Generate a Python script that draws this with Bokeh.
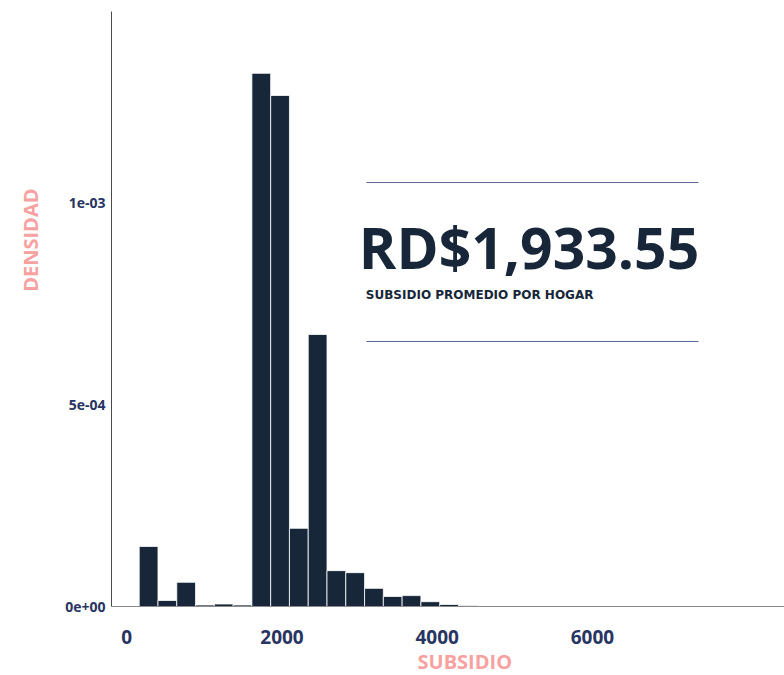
from bokeh.plotting import figure
from bokeh.models import Range1d, FixedTicker, Label, ColumnDataSource, Title
from bokeh.embed import file_html
from bokeh.resources import INLINE

# ---- data ----
bin_left = [160, 402, 644, 886, 1128, 1370, 1612, 1854, 2096, 2338,
            2580, 2822, 3064, 3306, 3548, 3790, 4032, 4274]
bin_right = [402, 644, 886, 1128, 1370, 1612, 1854, 2096, 2338, 2580,
             2822, 3064, 3306, 3548, 3790, 4032, 4274, 4516]
density = [1.49e-4, 1.5e-5, 6.0e-5, 3.7e-6, 6.2e-6, 3.7e-6, 1.323e-3, 1.268e-3,
           1.94e-4, 6.75e-4, 8.9e-5, 8.4e-5, 4.5e-5, 2.5e-5, 2.7e-5, 1.2e-5,
           5e-6, 2.5e-6]
x_ticks = [0, 2000, 4000, 6000]
y_ticks = [0, 0.0005, 0.001]
y_tick_labels = ["0e+00", "5e-04", "1e-03"]
x_title = "SUBSIDIO"
y_title = "DENSIDAD"
mean_text = "RD$1,933.55"
mean_caption = "SUBSIDIO PROMEDIO POR HOGAR"

BAR = "#172739"
TICK = "#283562"
TITLE = "#f7a1a1"
FONT = "Open Sans"

p = figure(width=784, height=675, output_backend="svg", toolbar_location=None,
           x_range=Range1d(-197, 8475), y_range=Range1d(0, 1.4764e-3),
           min_border_left=111, min_border_right=0, min_border_top=11,
           min_border_bottom=69)
p.outline_line_color = None
p.xgrid.grid_line_color = None
p.ygrid.grid_line_color = None
p.background_fill_color = "white"
p.border_fill_color = "white"

src = ColumnDataSource(dict(left=bin_left, right=bin_right, top=density))
p.quad(left="left", right="right", bottom=0, top="top", source=src,
       fill_color=BAR, line_color="white", line_width=0.8)

# axes
p.xaxis.ticker = FixedTicker(ticks=x_ticks)
p.yaxis.ticker = FixedTicker(ticks=y_ticks)
p.yaxis.major_label_overrides = {t: l for t, l in zip(y_ticks, y_tick_labels)}
for ax in (p.xaxis, p.yaxis):
    ax.major_tick_line_color = None
    ax.minor_tick_line_color = None
    ax.major_label_text_font = FONT
    ax.major_label_text_font_style = "bold"
    ax.major_label_text_color = TICK
p.xaxis.axis_line_color = "#8a8a8a"
p.yaxis.axis_line_color = "#4a4a4a"
p.xaxis.major_label_text_font_size = "19px"
p.yaxis.major_label_text_font_size = "14px"
p.xaxis.major_label_standoff = 17
p.yaxis.major_label_standoff = 0

# axis titles, placed off-centre as in the reference
p.add_layout(Title(text=x_title, align="left", offset=306, vertical_align="middle",
                   standoff=0, text_font=FONT, text_font_style="bold",
                   text_font_size="20px", text_color=TITLE), "below")
p.add_layout(Title(text=y_title, align="right", offset=177, vertical_align="top",
                   standoff=33, text_font=FONT, text_font_style="bold",
                   text_font_size="20px", text_color=TITLE), "left")

# annotation block
p.segment(x0=[3089, 3089], x1=[7367, 7367], y0=[1.052e-3, 6.576e-4],
          y1=[1.052e-3, 6.576e-4], line_color="#5b6394", line_width=1)
p.add_layout(Label(x=2990, y=8.91e-4, text=mean_text, text_font=FONT,
                   text_font_style="bold", text_font_size="57px",
                   text_color=BAR, text_baseline="alphabetic"))
p.add_layout(Label(x=3080, y=7.74e-4, text=mean_caption, text_font="DejaVu Sans",
                   text_font_style="bold", text_font_size="12px",
                   text_color=BAR, text_baseline="alphabetic"))

open("out.html", "w").write(file_html(p, INLINE))
